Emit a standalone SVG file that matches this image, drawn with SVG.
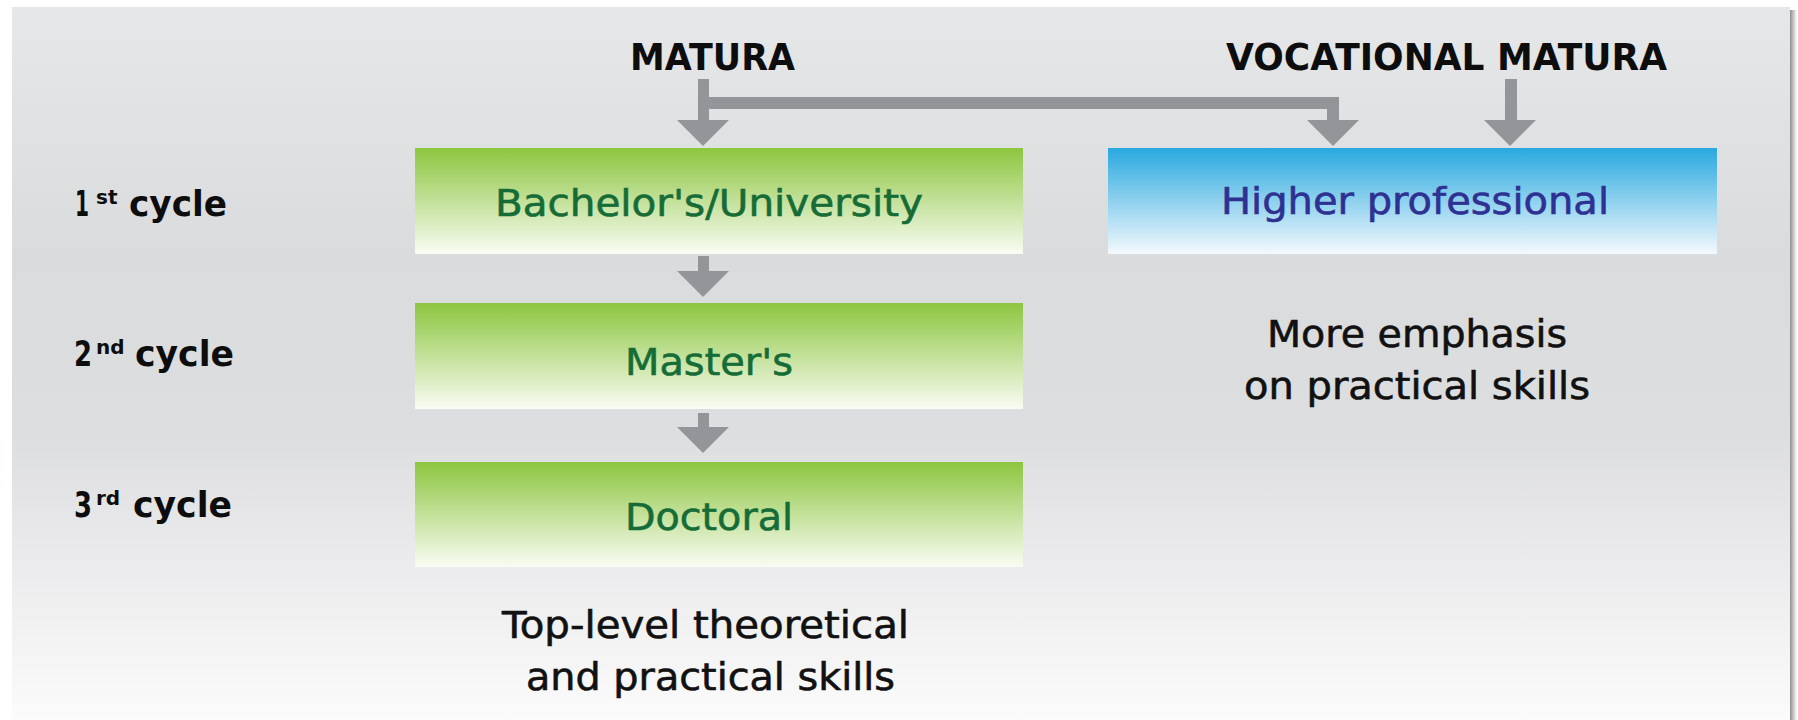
<svg xmlns="http://www.w3.org/2000/svg" width="1798" height="720" viewBox="0 0 1798 720">
<defs>
<linearGradient id="bg" x1="0" y1="0" x2="0" y2="1">
<stop offset="0" stop-color="#e6e7e9"/>
<stop offset="0.35" stop-color="#dadbdd"/>
<stop offset="0.6" stop-color="#dddee0"/>
<stop offset="0.85" stop-color="#f0f0f1"/>
<stop offset="1" stop-color="#fbfbfb"/>
</linearGradient>
<linearGradient id="shadow" x1="0" y1="0" x2="1" y2="0">
<stop offset="0" stop-color="#8e8e8e"/>
<stop offset="1" stop-color="#ffffff"/>
</linearGradient>
<linearGradient id="green" x1="0" y1="0" x2="0" y2="1">
<stop offset="0" stop-color="#8cc63f"/>
<stop offset="1" stop-color="#fafcf4"/>
</linearGradient>
<linearGradient id="blue" x1="0" y1="0" x2="0" y2="1">
<stop offset="0" stop-color="#29a9e0"/>
<stop offset="1" stop-color="#f4f9fd"/>
</linearGradient>
<style>
.head{font-family:"DejaVu Sans","Liberation Sans",sans-serif;font-weight:bold;font-size:38px;fill:#0d0d0d}
.cyc{font-family:"DejaVu Sans","Liberation Sans",sans-serif;font-weight:bold;font-size:35px;fill:#0d0d0d}
.sup{font-size:20px}
.gtxt{font-family:"DejaVu Sans","Liberation Sans",sans-serif;font-size:38px;fill:#166c37;stroke:#166c37;stroke-width:0.6}
.btxt{font-family:"DejaVu Sans","Liberation Sans",sans-serif;font-size:38px;fill:#2e3192;stroke:#2e3192;stroke-width:0.6}
.desc{font-family:"DejaVu Sans","Liberation Sans",sans-serif;font-size:37px;fill:#111111;stroke:#111111;stroke-width:0.6}
.arrow{fill:#939598}
</style>
</defs>
<rect x="0" y="0" width="1798" height="720" fill="#ffffff"/>
<rect x="1790" y="10" width="7" height="710" fill="url(#shadow)"/>
<rect x="12" y="7" width="1778" height="713" fill="url(#bg)"/>

<g id="connectors">
<path class="arrow" d="M698 79H709V120H729L703 146L677 120H698Z"/>
<path class="arrow" d="M709 97H1339V120H1359L1333 146L1307 120H1327V109H709Z"/>
<path class="arrow" d="M1505 79H1517V120H1536L1510 146L1484 120H1505Z"/>
<path class="arrow" d="M698 256H709V271H729L703 297L677 271H698Z"/>
<path class="arrow" d="M698 413H709V427H729L703 453L677 427H698Z"/>
</g>

<g id="matura"><text class="head" x="630" y="70" textLength="165" lengthAdjust="spacingAndGlyphs">MATURA</text></g>
<g id="vocational-matura"><text class="head" x="1226" y="70" textLength="441" lengthAdjust="spacingAndGlyphs">VOCATIONAL MATURA</text></g>

<g id="bachelor">
<rect x="415" y="148" width="608" height="106" fill="url(#green)"/>
<text class="gtxt" x="495" y="216" textLength="428" lengthAdjust="spacingAndGlyphs">Bachelor's/University</text>
</g>
<g id="master">
<rect x="415" y="303" width="608" height="106" fill="url(#green)"/>
<text class="gtxt" x="625" y="375" textLength="168" lengthAdjust="spacingAndGlyphs">Master's</text>
</g>
<g id="doctoral">
<rect x="415" y="462" width="608" height="105" fill="url(#green)"/>
<text class="gtxt" x="625" y="530" textLength="168" lengthAdjust="spacingAndGlyphs">Doctoral</text>
</g>
<g id="higher-professional">
<rect x="1108" y="148" width="609" height="106" fill="url(#blue)"/>
<text class="btxt" x="1221" y="214" textLength="388" lengthAdjust="spacingAndGlyphs">Higher professional</text>
</g>

<g id="cycle-1"><text class="cyc" y="216"><tspan x="75" textLength="14" lengthAdjust="spacingAndGlyphs">1</tspan><tspan class="sup" x="96" y="204">st</tspan><tspan x="129" y="216" textLength="98" lengthAdjust="spacingAndGlyphs">cycle</tspan></text></g>
<g id="cycle-2"><text class="cyc" y="366"><tspan x="74" textLength="18" lengthAdjust="spacingAndGlyphs">2</tspan><tspan class="sup" x="96" y="354">nd</tspan><tspan x="135" y="366" textLength="99" lengthAdjust="spacingAndGlyphs">cycle</tspan></text></g>
<g id="cycle-3"><text class="cyc" y="517"><tspan x="74" textLength="18" lengthAdjust="spacingAndGlyphs">3</tspan><tspan class="sup" x="96" y="505">rd</tspan><tspan x="133" y="517" textLength="99" lengthAdjust="spacingAndGlyphs">cycle</tspan></text></g>

<g id="note-vocational">
<text class="desc" x="1267" y="347" textLength="300" lengthAdjust="spacingAndGlyphs">More emphasis</text>
<text class="desc" x="1244" y="399" textLength="346" lengthAdjust="spacingAndGlyphs">on practical skills</text>
</g>
<g id="note-university">
<text class="desc" x="502" y="638" textLength="407" lengthAdjust="spacingAndGlyphs">Top-level theoretical</text>
<text class="desc" x="526" y="690" textLength="369" lengthAdjust="spacingAndGlyphs">and practical skills</text>
</g>
</svg>
